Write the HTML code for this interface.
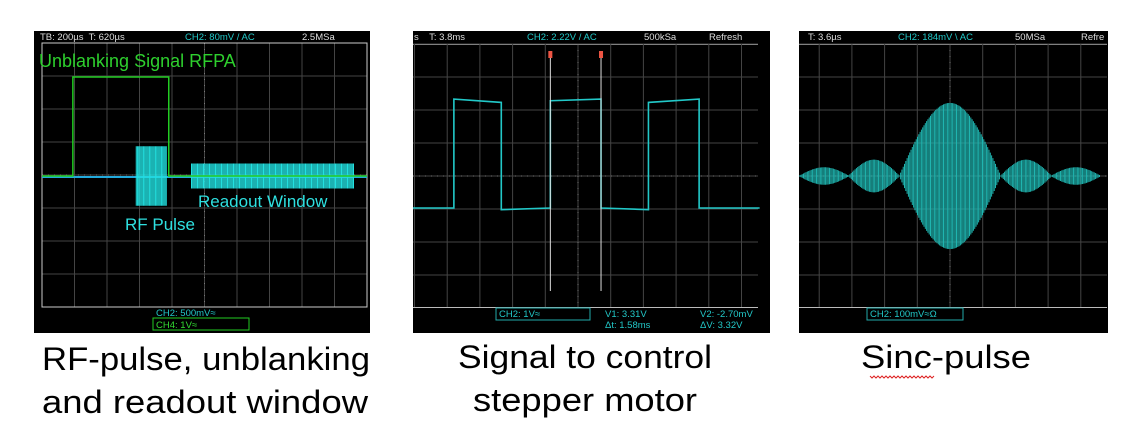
<!DOCTYPE html>
<html><head><meta charset="utf-8"><style>
html,body{margin:0;padding:0;background:#fff;width:1131px;height:445px;overflow:hidden}
svg{display:block}
.cap{font-family:"Liberation Sans",sans-serif;font-size:32px;fill:#000}
.hd{font-family:"Liberation Sans",sans-serif;font-size:9.5px;fill:#ddd}
.cy{fill:#22c8c8}
</style></head><body>
<svg id="s" width="1131" height="445" xmlns="http://www.w3.org/2000/svg">
<g id="p1">
<rect x="34" y="31" width="336" height="302" fill="#000"/>
<text class="hd" x="40" y="40">TB: 200µs&#160; T: 620µs</text>
<text class="hd cy" x="185" y="40">CH2: 80mV / AC</text>
<text class="hd" x="302" y="40">2.5MSa</text>
<g id="g1"></g>
<text class="hd cy" x="156" y="316">CH2: 500mV≈</text>
<rect x="153" y="318" width="96" height="12" fill="none" stroke="#2c2" stroke-width="1"/>
<text class="hd" x="156" y="328" style="fill:#3d3">CH4: 1V≈</text>
<g id="w1"></g>
<text x="39" y="67" style="font-family:'Liberation Sans',sans-serif;font-size:18px;fill:#2ed02e">Unblanking Signal RFPA</text>
<text x="125" y="230" style="font-family:'Liberation Sans',sans-serif;font-size:17px;fill:#2ee0e0">RF Pulse</text>
<text x="198" y="207" style="font-family:'Liberation Sans',sans-serif;font-size:17px;fill:#2ee0e0">Readout Window</text>
</g>
<g id="p2">
<rect x="413" y="31" width="357" height="302" fill="#000"/>
<text class="hd" x="414" y="40">s&#160;&#160;&#160; T: 3.8ms</text>
<text class="hd cy" x="527" y="40">CH2: 2.22V / AC</text>
<text class="hd" x="644" y="40">500kSa</text>
<text class="hd" x="709" y="40">Refresh</text>
<line x1="413" y1="44.5" x2="758" y2="44.5" stroke="#bbb"/>
<g id="g2"></g>
<line x1="413" y1="307.5" x2="758" y2="307.5" stroke="#bbb"/>
<rect x="496" y="308" width="94" height="12" fill="none" stroke="#2aa"/>
<text class="hd cy" x="499" y="317">CH2: 1V≈</text>
<text class="hd cy" x="605" y="317">V1: 3.31V</text>
<text class="hd cy" x="605" y="328">Δt: 1.58ms</text>
<text class="hd cy" x="700" y="317">V2: -2.70mV</text>
<text class="hd cy" x="700" y="328">ΔV: 3.32V</text>
<g id="w2"></g>
</g>
<g id="p3">
<rect x="799" y="31" width="309" height="302" fill="#000"/>
<text class="hd" x="808" y="40">T: 3.6µs</text>
<text class="hd cy" x="898" y="40">CH2: 184mV \ AC</text>
<text class="hd" x="1015" y="40">50MSa</text>
<text class="hd" x="1081" y="40">Refre</text>
<line x1="799" y1="44.5" x2="1107" y2="44.5" stroke="#bbb"/>
<g id="g3"></g>
<line x1="799" y1="307.5" x2="1107" y2="307.5" stroke="#bbb"/>
<rect x="867" y="308" width="96" height="12" fill="none" stroke="#2aa"/>
<text class="hd cy" x="870" y="317">CH2: 100mV≈Ω</text>
<g id="w3"></g>
</g>
<text class="cap" x="42" y="370" textLength="328" lengthAdjust="spacingAndGlyphs">RF-pulse, unblanking</text>
<text class="cap" x="42" y="413" textLength="326" lengthAdjust="spacingAndGlyphs">and readout window</text>
<text class="cap" x="458" y="368" textLength="254" lengthAdjust="spacingAndGlyphs">Signal to control</text>
<text class="cap" x="473" y="411" textLength="224" lengthAdjust="spacingAndGlyphs">stepper motor</text>
<text class="cap" x="861" y="368" textLength="170" lengthAdjust="spacingAndGlyphs">Sinc-pulse</text>
<path d="M870 376 l2 2 l2 -2 l2 2 l2 -2 l2 2 l2 -2 l2 2 l2 -2 l2 2 l2 -2 l2 2 l2 -2 l2 2 l2 -2 l2 2 l2 -2 l2 2 l2 -2 l2 2 l2 -2 l2 2 l2 -2 l2 2 l2 -2 l2 2 l2 -2 l2 2 l2 -2 l2 2 l2 -2 l2 2 l2 -2" fill="none" stroke="#d22" stroke-width="1"/>
</svg>
<script>
// Panel 1 data (time in divisions 0..10, amplitude in divisions)
const unblankTimes=[0,0.95,0.95,3.9,3.9,10];
const unblankLevels=[0,0,3,3,0,0];
const rfPulse=[2.9,3.85,0.9];      // start, end, half-amplitude (div)
const readoutWindow=[4.6,9.6,0.38];
// Panel 2 data (time div, volts)
const stepTimes=[0,1.25,1.25,2.7,2.7,4.2,4.2,5.75,5.75,7.2,7.2,8.75,8.75,10.6];
const stepLevels=[0,0,3.3,3.2,-0.05,0,3.25,3.3,0,-0.05,3.2,3.3,0,0];
const cursorTimes=[4.2,5.75];
// Panel 3 data: sinc lobe zero positions (div from center) and peak amplitudes (div)
const lobeEdges=[-4.6,-3.1,-1.55,1.55,3.1,4.6];
const lobePeaks=[0.25,0.48,2.2,0.48,0.25];
const NS="http://www.w3.org/2000/svg";
function mk(p,t,a,n){const e=document.createElementNS(NS,t);for(const k in a)e.setAttribute(k,a[k]);


p.appendChild(e);return e;}
function grid(id,x0,x1,cx,dx,y0,y1,dy){const g=document.getElementById(id);
for(let x=cx-20*dx;x<=x1+0.1;x+=dx){if(x<x0-0.1)continue;mk(g,'line',{x1:x,x2:x,y1:y0,y2:y1,stroke:'#444','stroke-width':1},'grid-vline');}
for(let y=y0;y<=y1+0.1;y+=dy){mk(g,'line',{x1:x0,x2:x1,y1:y,y2:y,stroke:'#444','stroke-width':1},'grid-hline');}
const cy=y0+4*dy;
mk(g,'line',{x1:cx,x2:cx,y1:y0,y2:y1,stroke:'#777','stroke-dasharray':'1 5'},'center-axis-v');
mk(g,'line',{x1:x0,x2:x1,y1:cy,y2:cy,stroke:'#777','stroke-dasharray':'1 5'},'center-axis-h');}
// Panel 1
grid('g1',42,367,204.5,32.5,43,307,33);
mk(document.getElementById('g1'),'rect',{x:42,y:43,width:325,height:264,fill:'none',stroke:'#ccc'},'grid-border');
const X1=t=>42+t*32.5, Y1=v=>176-v*33;
const w1=document.getElementById('w1');
mk(w1,'line',{x1:X1(0),x2:X1(10),y1:Y1(0)+1,y2:Y1(0)+1,stroke:'#2ad','stroke-width':2},'ch2-baseline');
function burst(g,s,e,a,n){let d='';for(let x=X1(s);x<=X1(e);x+=1.2){d+=`M${x} ${Y1(a)}V${Y1(-a)}`;}mk(g,'path',{d:d,stroke:'#22e0e0','stroke-width':1},n);}
burst(w1,rfPulse[0],rfPulse[1],rfPulse[2],'rf-pulse-burst');
burst(w1,readoutWindow[0],readoutWindow[1],readoutWindow[2],'readout-burst');
mk(w1,'polyline',{points:unblankTimes.map((t,i)=>X1(t)+','+Y1(unblankLevels[i])).join(' '),fill:'none',stroke:'#2c2','stroke-width':1.5},'unblanking-trace');
// Panel 2
grid('g2',413,758,578,32.7,44,307,33);
const X2=t=>413+t*32.7, Y2=v=>208-v*33;
const w2=document.getElementById('w2');
mk(w2,'polyline',{points:stepTimes.map((t,i)=>X2(t)+','+Y2(stepLevels[i])).join(' '),fill:'none',stroke:'#22c8c8','stroke-width':1.6},'stepper-trace');
cursorTimes.forEach((t,i)=>{mk(w2,'line',{x1:X2(t),x2:X2(t),y1:58,y2:291,stroke:'#ddd','stroke-width':1},'cursor-line');
mk(w2,'rect',{x:X2(t)-2,y:51,width:4,height:7,fill:'#e54'},'cursor-marker');});
// Panel 3
grid('g3',799,1107,950,32.7,44,307,33);
const X3=t=>950+t*32.7, Y3=v=>176-v*33;
const w3=document.getElementById('w3');
let d='';
for(let i=0;i<lobePeaks.length;i++){const a=lobeEdges[i],b=lobeEdges[i+1];
for(let x=X3(a);x<=X3(b);x+=1.3){const f=Math.sin(Math.PI*(x-X3(a))/(X3(b)-X3(a)));const h=lobePeaks[i]*f;
d+=`M${x} ${Y3(h)-0.5}V${Y3(-h)+0.5}`;}}
mk(w3,'path',{d:d,stroke:'#1fb5b0','stroke-width':1},'sinc-trace');
</script>
</body></html>
